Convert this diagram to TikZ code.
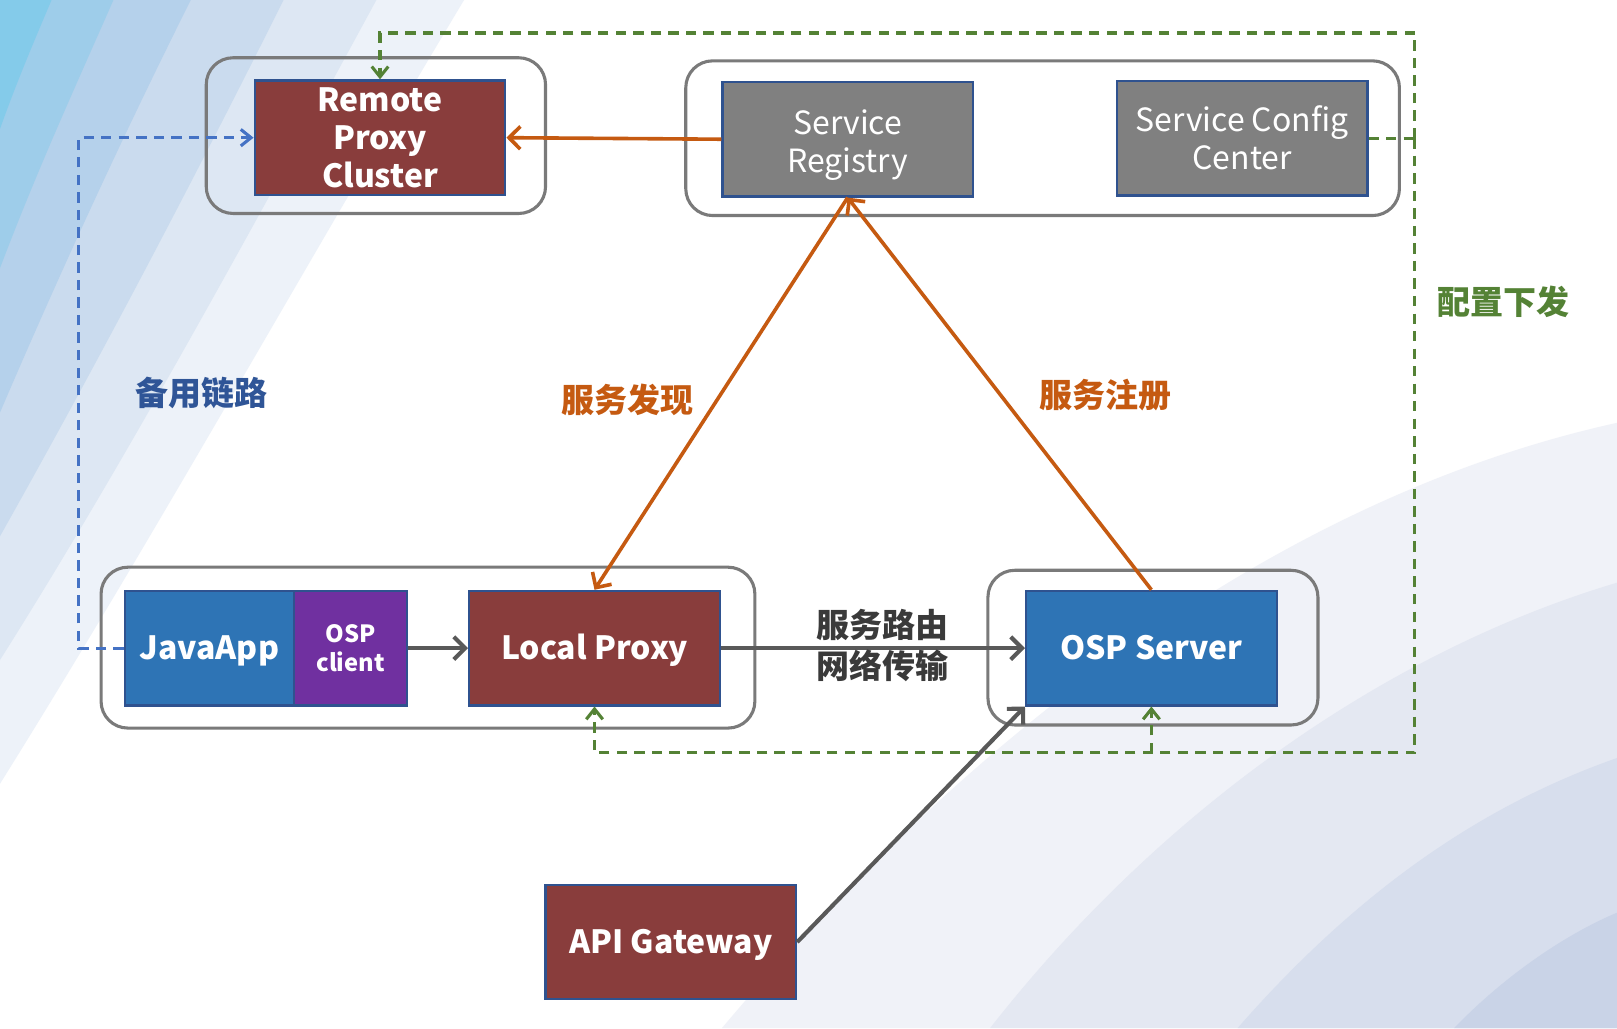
\documentclass[tikz,border=0pt]{standalone}
\usepackage{fontspec}
\setmainfont{Noto Sans CJK SC}
\usetikzlibrary{arrows.meta,calc}
\definecolor{boxred}{HTML}{893D3C}
\definecolor{boxblue}{HTML}{2E74B5}
\definecolor{boxpurple}{HTML}{7030A0}
\definecolor{boxgray}{HTML}{808080}
\definecolor{edgeblue}{HTML}{2F528F}
\definecolor{contgray}{HTML}{7A7A7A}
\definecolor{orng}{HTML}{C55A11}
\definecolor{grn}{HTML}{548235}
\definecolor{dblue}{HTML}{4472C4}
\definecolor{lblblue}{HTML}{2F5597}
\definecolor{arrgray}{HTML}{595959}
\definecolor{txtdark}{HTML}{3A3A3A}
\definecolor{bgA}{HTML}{EDF2F9}
\definecolor{bgB}{HTML}{DDE7F3}
\definecolor{bgC}{HTML}{CADBEE}
\definecolor{bgD}{HTML}{B5D1EB}
\definecolor{bgE}{HTML}{9ECDEA}
\definecolor{bgF}{HTML}{84CBEA}
\definecolor{bgR1}{HTML}{F0F2F8}
\definecolor{bgR2}{HTML}{E4E8F2}
\definecolor{bgR3}{HTML}{D7DEED}
\definecolor{bgR4}{HTML}{C9D3E7}
\begin{document}
\begin{tikzpicture}[x=1pt,y=-1pt,
  comp/.style={draw=edgeblue,line width=2.2pt,minimum width=243pt,minimum height=111pt,
    inner sep=0pt,text=white,align=center,font=\fontsize{31}{37}\selectfont\bfseries},
  oneline/.style={text height=27pt,text depth=5pt},
  reg/.style={font=\fontsize{31}{37}\selectfont},
  cont/.style={draw=contgray,line width=3pt,rounded corners=26pt,inner sep=0pt},
  barb/.style={-{Straight Barb[length=11pt,width=22pt]}},
  smallbarb/.style={-{Straight Barb[length=10pt,width=16pt]}},
  orarrow/.style={draw=orng,line width=3.5pt,barb},
  grarrow/.style={draw=arrgray,line width=4pt,barb},
  gdash/.style={draw=grn,line width=3pt,dash pattern=on 10pt off 7pt},
  bdash/.style={draw=dblue,line width=3pt,dash pattern=on 10pt off 7pt},
  lbl/.style={font=\fontsize{32}{39}\selectfont\bfseries,align=center,inner sep=0pt}]
\useasboundingbox (0,0) rectangle (1568,997);
% background
\fill[white] (0,0) rectangle (1568,997);
\fill[bgA] (0,0) -- (450,0) .. controls (300,250) and (150,520) .. (0,760) -- cycle;
\fill[bgB] (0,0) -- (365,0) .. controls (240,230) and (120,450) .. (0,640) -- cycle;
\fill[bgC] (0,0) -- (275,0) .. controls (180,190) and (90,360) .. (0,520) -- cycle;
\fill[bgD] (0,0) -- (185,0) .. controls (120,130) and (60,260) .. (0,400) -- cycle;
\fill[bgE] (0,0) -- (110,0) .. controls (75,80) and (38,160) .. (0,260) -- cycle;
\fill[bgF] (0,0) -- (50,0) .. controls (33,40) and (16,80) .. (0,125) -- cycle;
\fill[bgR1] (700,997) .. controls (950,700) and (1250,480) .. (1568,410) -- (1568,997) -- cycle;
\fill[bgR2] (960,997) .. controls (1130,780) and (1350,630) .. (1568,565) -- (1568,997) -- cycle;
\fill[bgR3] (1200,997) .. controls (1320,860) and (1440,780) .. (1568,735) -- (1568,997) -- cycle;
\fill[bgR4] (1410,997) .. controls (1460,945) and (1520,905) .. (1568,885) -- (1568,997) -- cycle;
% containers
\node[cont,minimum width=329pt,minimum height=151pt] (rpcC) at (364.5,131.5) {};
\node[cont,minimum width=692pt,minimum height=150pt] (srC) at (1011,134) {};
\node[cont,minimum width=634pt,minimum height=156pt] (lpC) at (415,628) {};
\node[cont,minimum width=320pt,minimum height=150pt] (ospC) at (1118,628) {};
% components
\node[comp,fill=boxred] (rpc) at (368.5,133.5) {Remote\\Proxy\\Cluster};
\node[comp,fill=boxgray,reg,text height=64pt,text depth=0pt] (sr) at (822,135) {Service\\Registry};
\node[comp,fill=boxgray,reg] (scc) at (1204.5,134) {Service Config\\Center};
\node[comp,fill=boxblue,minimum width=164pt,oneline] (java) at (203,628.5) {JavaApp};
\node[comp,fill=boxpurple,minimum width=110pt,font=\fontsize{23}{28}\selectfont\bfseries] (oc) at (340,628.5) {OSP\\client};
\node[comp,fill=boxred,oneline] (lp) at (576.5,628.5) {Local Proxy};
\node[comp,fill=boxblue,oneline] (osps) at (1116.5,628.5) {OSP Server};
\node[comp,fill=boxred,oneline] (api) at (650.5,913.5) {API Gateway};
% green dashed config distribution
\coordinate (gR) at (1372,134);
\coordinate (gTR) at (1372,32);
\coordinate (gTL) at (368.5,32);
\coordinate (gBR) at (1372,730);
\coordinate (gBL) at (576.5,730);
\coordinate (gBM) at (1116.5,730);
\draw[gdash] (scc.east) -- (gR);
\draw[gdash,smallbarb] (gR) -- (gTR) -- (gTL) -- (rpc.north);
\draw[gdash,smallbarb] (gR) -- (gBR) -- (gBL) -- (lp.south);
\draw[gdash,smallbarb] (gBM) -- (osps.south);
% blue dashed backup link
\coordinate (bB) at (76,628.5);
\coordinate (bT) at (76,133.5);
\draw[bdash,smallbarb] (java.west) -- (bB) -- (bT) -- (rpc.west);
% orange arrows
\draw[orarrow] (sr.west) -- (rpc.east);
\draw[orarrow] (sr.south) -- (lp.north);
\draw[orarrow] (osps.north) -- (sr.south);
% gray arrows
\draw[grarrow] (oc.east) -- (lp.west);
\draw[grarrow] (lp.east) -- (osps.west);
\draw[grarrow] (api.east) -- (osps.south west);
% labels
\node[lbl,text=lblblue] (l1) at (195,381) {备用链路};
\node[lbl,text=orng] (l2) at (608,388) {服务发现};
\node[lbl,text=orng] (l3) at (1072,383) {服务注册};
\node[lbl,text=grn] (l4) at (1458,293) {配置下发};
\node[lbl,text=txtdark] (l5) at (856,626) {服务路由\\网络传输};
\end{tikzpicture}
\end{document}
